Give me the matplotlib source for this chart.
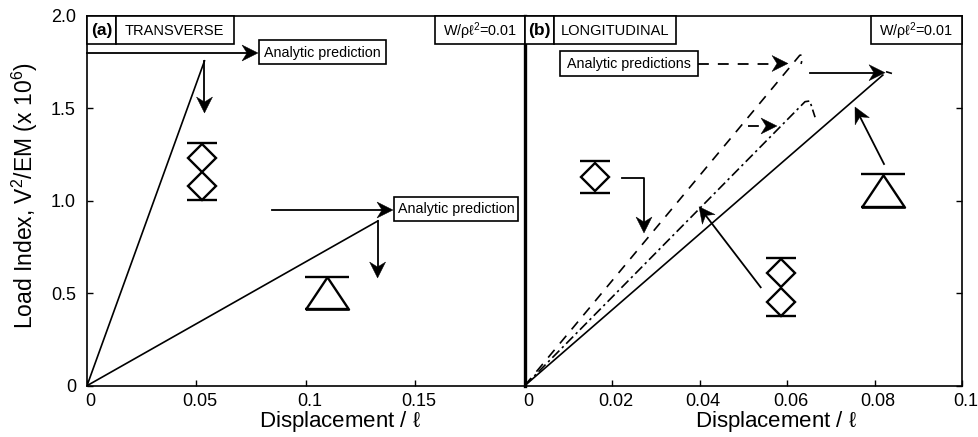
import matplotlib
matplotlib.use("Agg")
import matplotlib.pyplot as plt
from matplotlib.patches import Polygon, Rectangle
from matplotlib.transforms import ScaledTranslation

plt.rcParams["font.family"] = ["Liberation Sans", "DejaVu Sans"]
plt.rcParams["mathtext.default"] = "regular"

# panel (a), transverse
a_line1_x = [0, 0.0537]
a_line1_y = [0, 1.757]
a_line2_x = [0, 0.1329]
a_line2_y = [0, 0.891]
a_diamond_x = [0.0527, 0.0527]
a_diamond_y = [1.233, 1.081]
a_diamond_caps = [1.313, 1.003]
a_tri_x = 0.1097
a_tri_caps = [0.59, 0.415]

# panel (b), longitudinal
b_solid_x = [0, 0.0819]
b_solid_y = [0, 1.68]
b_solid_tail_x = [0.0828, 0.0838]
b_solid_tail_y = [1.697, 1.69]
b_dash_x = [0, 0.0629, 0.0637, 0.0632]
b_dash_y = [0, 1.787, 1.79, 1.74]
b_dashdot_x = [0, 0.0641, 0.0652, 0.0664]
b_dashdot_y = [0, 1.536, 1.54, 1.452]
b_diamond1_x = 0.0161
b_diamond1_y = 1.129
b_diamond1_caps = [1.216, 1.041]
b_diamond2_x = [0.0587, 0.0587]
b_diamond2_y = [0.608, 0.454]
b_diamond2_caps = [0.689, 0.379]
b_tri_x = 0.082
b_tri_caps = [1.145, 0.966]

a_xticks = [0, 0.05, 0.1, 0.15]
a_xlabels = ["0", "0.05", "0.1", "0.15"]
b_xticks = [0, 0.02, 0.04, 0.06, 0.08, 0.1]
b_xlabels = ["0", "0.02", "0.04", "0.06", "0.08", "0.1"]
yticks = [0, 0.5, 1.0, 1.5, 2.0]
ylabels = ["0", "0.5", "1.0", "1.5", "2.0"]

W, H = 979, 437
fig = plt.figure(figsize=(W / 100, H / 100), dpi=100)
top, bottom = 15.9, 385.7
ax_a = fig.add_axes([87 / W, 1 - bottom / H, (524.7 - 87) / W, (bottom - top) / H])
ax_b = fig.add_axes([524.7 / W, 1 - bottom / H, (962 - 524.7) / W, (bottom - top) / H])

label_shift = ScaledTranslation(3.5 / 100, 0, fig.dpi_scale_trans)
for ax, xmax, ticks, labels in [(ax_a, 0.2, a_xticks, a_xlabels), (ax_b, 0.1, b_xticks, b_xlabels)]:
    ax.set_xlim(0, xmax)
    ax.set_ylim(0, 2)
    ax.set_xticks(ticks)
    ax.set_xticklabels(labels)
    ax.tick_params(direction="in", length=4.5, width=1, labelsize=13, pad=5)
    for lb in ax.get_xticklabels():
        lb.set_transform(lb.get_transform() + label_shift)
    for spine in ax.spines.values():
        spine.set_linewidth(1.2)
    ax.set_xlabel(r"Displacement / $\ell$", fontsize=16, va="center")
ax_a.xaxis.set_label_coords(0.578, -0.097)
ax_b.xaxis.set_label_coords(0.575, -0.097)

ax_a.set_yticks(yticks)
ax_a.set_yticklabels(ylabels)
ax_a.set_ylabel("Load Index, V$^2$/EM (x 10$^6$)", fontsize=16.5, va="center")
ax_a.yaxis.set_label_coords(-0.142, 0.513)
ax_a.tick_params(axis="y", pad=8)

ax_b.yaxis.tick_right()
ax_b.set_yticks(yticks)
ax_b.tick_params(axis="y", labelright=False)
ax_b.spines["left"].set_linewidth(2.4)
ax_a.spines["right"].set_visible(False)

ax_a.plot(a_line1_x, a_line1_y, color="k", lw=1.2)
ax_a.plot(a_line2_x, a_line2_y, color="k", lw=1.2)

ax_b.plot(b_solid_x, b_solid_y, color="k", lw=1.2)
ax_b.plot(b_solid_tail_x, b_solid_tail_y, color="k", lw=1.2)
ax_b.plot(b_dash_x, b_dash_y, color="k", lw=1.2, linestyle=(0, (6, 5)))
ax_b.plot(b_dashdot_x, b_dashdot_y, color="k", lw=1.2, linestyle=(0, (6, 2.2, 1.4, 2.2)))

# triangle marker, wider than it is tall
tri = [(-1, -0.75), (1, -0.75), (0, 0.75), (-1, -0.75)]


def diamonds(ax, x, y, caps):
    ax.plot(x, y, ls="none", marker="D", ms=14.5, mfc="none", mec="k", mew=1.7)
    ax.plot([x[0]] * 2, caps, ls="none", marker="_", ms=21, mec="k", mew=1.7)


def triangle(ax, x, caps):
    ax.plot([x], [sum(caps) / 2], ls="none", marker=tri, ms=31, mfc="none", mec="k", mew=1.7)
    ax.plot([x, x], caps, ls="none", marker="_", ms=31, mec="k", mew=1.7)


diamonds(ax_a, a_diamond_x, a_diamond_y, a_diamond_caps)
triangle(ax_a, a_tri_x, a_tri_caps)
diamonds(ax_b, [b_diamond1_x], [b_diamond1_y], b_diamond1_caps)
diamonds(ax_b, b_diamond2_x, b_diamond2_y, b_diamond2_caps)
triangle(ax_b, b_tri_x, b_tri_caps)

# overlay in image pixels for the boxes and arrows
ov = fig.add_axes([0, 0, 1, 1], zorder=5)
ov.set_xlim(0, W)
ov.set_ylim(H, 0)
ov.axis("off")


def box(x0, x1, y0, y1, txt, size=10.25, weight="normal"):
    ov.add_patch(Rectangle((x0, y0), x1 - x0, y1 - y0, fc="white", ec="k", lw=1.2, zorder=3))
    ov.text((x0 + x1) / 2, (y0 + y1) / 2 + 0.5, txt, ha="center", va="center", fontsize=size,
            fontweight=weight, zorder=4)


def arrow(pts, ls="-"):
    xs = [p[0] for p in pts]
    ys = [p[1] for p in pts]
    (x0, y0), (x1, y1) = pts[-2], pts[-1]
    d = ((x1 - x0) ** 2 + (y1 - y0) ** 2) ** 0.5
    ux, uy = (x1 - x0) / d, (y1 - y0) / d
    L, w, n = 16, 8, 11
    xs[-1] = x1 - ux * n
    ys[-1] = y1 - uy * n
    ov.plot(xs, ys, color="k", lw=1.3, linestyle=ls, zorder=2)
    head = [(x1, y1),
            (x1 - ux * L - uy * w, y1 - uy * L + ux * w),
            (x1 - ux * n, y1 - uy * n),
            (x1 - ux * L + uy * w, y1 - uy * L - ux * w)]
    ov.add_patch(Polygon(head, closed=True, fc="k", ec="k", lw=0.3, zorder=2))


dash = (0, (6, 5))
arrow([(87, 53), (258, 53)])
arrow([(204.5, 61), (204.5, 113)])
arrow([(272, 210), (393, 210)])
arrow([(377.6, 221), (377.6, 278)])
arrow([(698, 63.5), (788, 63.5)], ls=dash)
arrow([(748, 126), (777, 126)], ls=dash)
arrow([(810, 72.7), (885, 72.7)])
arrow([(884, 164), (855, 107)])
arrow([(622, 178), (644, 178), (644, 233)])
arrow([(760.7, 287.3), (699, 206.7)])

box(87, 116, 15.9, 44.5, "(a)", size=12.5, weight="bold")
box(116, 233.6, 15.9, 44.5, "TRANSVERSE", size=10.5)
box(435.4, 524.7, 15.9, 44.5, r"W/ρ$\ell^2$=0.01", size=10.4)
box(258.6, 386.4, 40, 64, "Analytic prediction")
box(393.8, 518.3, 197, 221, "Analytic prediction")
box(524.7, 554, 15.9, 44.5, "(b)", size=12.5, weight="bold")
box(554, 676, 15.9, 44.5, "LONGITUDINAL", size=10.5)
box(871, 962, 15.9, 44.5, r"W/ρ$\ell^2$=0.01", size=10.4)
box(560, 698, 51, 76, "Analytic predictions")

fig.savefig("out.png", dpi=100)
